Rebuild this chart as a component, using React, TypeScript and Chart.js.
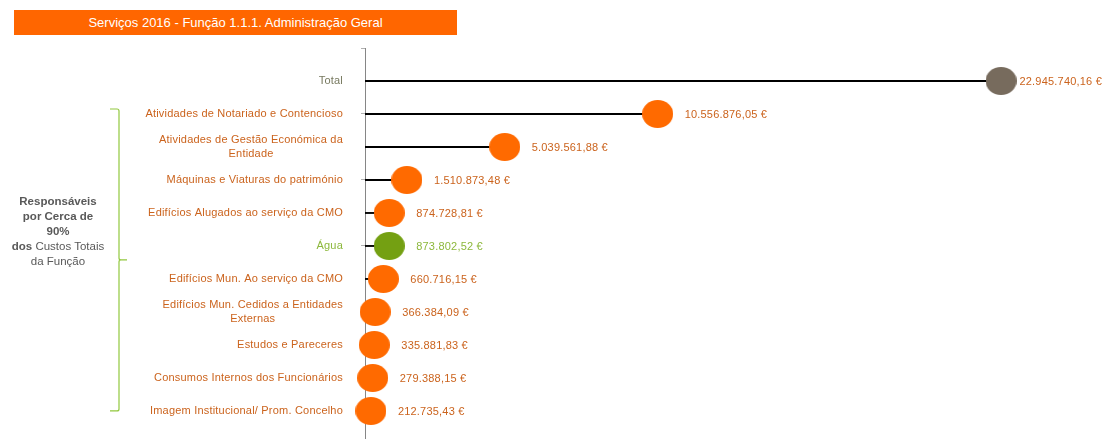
import React, { useEffect, useRef } from "react";
import { Chart, registerables } from "chart.js";

Chart.register(...registerables);

const TITLE = "Serviços 2016 - Função 1.1.1. Administração Geral";

const categories: string[][] = [
  ["Total"],
  ["Atividades de Notariado e Contencioso"],
  ["Atividades de Gestão Económica da", "Entidade"],
  ["Máquinas e Viaturas do património"],
  ["Edifícios Alugados ao serviço da CMO"],
  ["Água"],
  ["Edifícios Mun. Ao serviço da CMO"],
  ["Edifícios Mun. Cedidos a Entidades", "Externas"],
  ["Estudos e Pareceres"],
  ["Consumos Internos dos Funcionários"],
  ["Imagem Institucional/ Prom. Concelho"],
];

const values: number[] = [
  22945740.16, 10556876.05, 5039561.88, 1510873.48, 874728.81, 873802.52,
  660716.15, 366384.09, 335881.83, 279388.15, 212735.43,
];

const valueLabels: string[] = [
  "22.945.740,16 €", "10.556.876,05 €", "5.039.561,88 €", "1.510.873,48 €",
  "874.728,81 €", "873.802,52 €", "660.716,15 €", "366.384,09 €",
  "335.881,83 €", "279.388,15 €", "212.735,43 €",
];

// kind of each row: total / highlight (water) / normal
const kinds: string[] = [
  "total", "normal", "normal", "normal", "normal", "water",
  "normal", "normal", "normal", "normal", "normal",
];

const dotColors: Record<string, string> = {
  total: "#776B5D",
  water: "#74A012",
  normal: "#FF6A00",
};
const textColors: Record<string, string> = {
  total: "#77795F",
  water: "#8DB83C",
  normal: "#CB631D",
};

const noteLines: { bold: string; normal: string }[] = [
  { bold: "Responsáveis", normal: "" },
  { bold: "por Cerca de", normal: "" },
  { bold: "90%", normal: "" },
  { bold: "dos", normal: " Custos Totais" },
  { bold: "", normal: "da Função" },
];

const FONT = "'Liberation Sans', Arial, sans-serif";

function makeEllipse(color: string): HTMLCanvasElement {
  const c = document.createElement("canvas");
  c.width = 31;
  c.height = 28;
  const g = c.getContext("2d")!;
  g.fillStyle = color;
  g.beginPath();
  g.ellipse(15.5, 14, 15.5, 14, 0, 0, Math.PI * 2);
  g.fill();
  return c;
}

const decorPlugin = {
  id: "decor",
  afterDatasetsDraw(chart: any) {
    const ctx = chart.ctx as CanvasRenderingContext2D;
    const ys = chart.scales.y;
    const xs = chart.scales.x;
    const left = chart.chartArea.left;
    ctx.save();
    (ctx as any).letterSpacing = "0.2px";
    ctx.font = `11px ${FONT}`;
    ctx.textBaseline = "middle";
    // category labels
    categories.forEach((lines, i) => {
      const y = ys.getPixelForValue(i + 1);
      ctx.fillStyle = textColors[kinds[i]];
      const widths = lines.map((l) => ctx.measureText(l).width);
      const w = Math.max(...widths);
      const right = left - 22;
      const cx = right - w / 2;
      const lh = 13.5;
      const y0 = y - ((lines.length - 1) * lh) / 2;
      ctx.textAlign = "center";
      lines.forEach((l, j) => ctx.fillText(l, cx, y0 + j * lh));
    });
    // value labels
    ctx.textAlign = "left";
    values.forEach((v, i) => {
      const y = ys.getPixelForValue(i + 1);
      const x = xs.getPixelForValue(v);
      const t = valueLabels[i];
      const tw = ctx.measureText(t).width;
      const lx = Math.min(x + 27, chart.width - tw - 4);
      ctx.fillStyle = kinds[i] === "water" ? textColors.water : textColors.normal;
      ctx.fillText(t, lx, y + 1);
    });
    // bracket
    const top = ys.getPixelForValue(2) - 5;
    const bot = ys.getPixelForValue(11);
    const mid = (top + bot) / 2;
    const bx = 119;
    ctx.strokeStyle = "#92C83E";
    ctx.lineWidth = 1.2;
    ctx.beginPath();
    ctx.moveTo(110, top);
    ctx.lineTo(bx - 2, top);
    ctx.quadraticCurveTo(bx, top, bx, top + 2);
    ctx.lineTo(bx, mid - 2);
    ctx.quadraticCurveTo(bx, mid, bx + 2, mid);
    ctx.lineTo(127, mid);
    ctx.moveTo(bx + 2, mid);
    ctx.quadraticCurveTo(bx, mid, bx, mid + 2);
    ctx.lineTo(bx, bot - 2);
    ctx.quadraticCurveTo(bx, bot, bx - 2, bot);
    ctx.lineTo(110, bot);
    ctx.stroke();
    ctx.restore();
  },
};

function LollipopChart() {
  const ref = useRef<HTMLCanvasElement | null>(null);
  useEffect(() => {
    if (!ref.current) return;
    const points = values.map((v, i) => ({ x: v, y: i + 1 }));
    const chart = new Chart(ref.current, {
      type: "bar",
      data: {
        datasets: [
          {
            type: "bar",
            data: points,
            backgroundColor: "#000000",
            borderWidth: 0,
            barThickness: 1.2,
            order: 2,
          } as any,
          {
            type: "line",
            data: points,
            showLine: false,
            pointStyle: kinds.map((k) => makeEllipse(dotColors[k])),
            pointRadius: 15,
            clip: false,
            order: 1,
          } as any,
        ],
      },
      options: {
        indexAxis: "y",
        animation: false,
        responsive: false,
        layout: { autoPadding: false, padding: { top: 48, right: 48, left: 0, bottom: 0 } },
        plugins: {
          legend: { display: false },
          tooltip: { enabled: false },
          title: { display: false },
        },
        scales: {
          x: { type: "linear", min: 0, max: 25000000, display: false, offset: false },
          y: {
            type: "linear",
            min: 0,
            max: 11.85,
            reverse: true,
            offset: false,
            position: "left",
            ticks: { display: false, stepSize: 2 },
            grid: {
              offset: false,
              drawOnChartArea: false,
              drawTicks: true,
              tickLength: 4,
              color: "#B0B0B0",
            },
            border: { color: "#868686", width: 1 },
            afterFit: (s: any) => {
              s.width = 365;
            },
          },
        },
      } as any,
      plugins: [decorPlugin],
    });
    return () => chart.destroy();
  }, []);
  return <canvas ref={ref} width={1106} height={439} style={{ display: "block" }} />;
}

export default function App() {
  return (
    <div
      style={{
        position: "absolute",
        left: 0,
        top: 0,
        width: 1106,
        height: 439,
        background: "#FFFFFF",
        overflow: "hidden",
      }}
    >
      <div style={{ position: "absolute", left: 0, top: 0, width: 1106, height: 439 }}>
        <LollipopChart />
      </div>
      <div
        style={{
          position: "absolute",
          left: 14,
          top: 10,
          width: 443,
          height: 25,
          background: "#FF6600",
          color: "#FFFFFF",
          fontFamily: FONT,
          fontSize: 13,
          lineHeight: "25px",
          textAlign: "center",
        }}
      >
        {TITLE}
      </div>
      <div
        style={{
          position: "absolute",
          left: 3,
          top: 194,
          width: 110,
          fontFamily: FONT,
          fontSize: 11.5,
          lineHeight: "15px",
          textAlign: "center",
          color: "#595959",
        }}
      >
        {noteLines.map((l, i) => (
          <div key={i}>
            {l.bold && <b>{l.bold}</b>}
            {l.normal}
          </div>
        ))}
      </div>
    </div>
  );
}
